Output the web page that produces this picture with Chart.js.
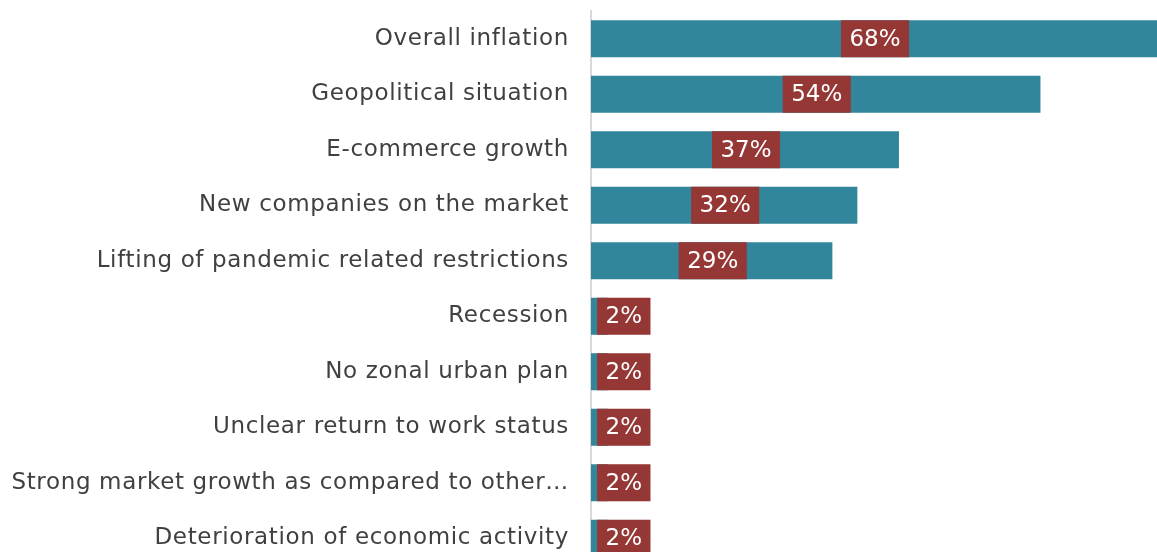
<!DOCTYPE html>
<html>
<head>
<meta charset="utf-8">
<script src="https://cdn.jsdelivr.net/npm/chart.js@4"></script>
<style>
  html, body { margin: 0; padding: 0; background: #fff; overflow: hidden; }
</style>
</head>
<body>
<canvas id="myCanvas" width="1157" height="566"></canvas>
<script>
// Data
const categories = [
  'Overall inflation',
  'Geopolitical situation',
  'E-commerce growth',
  'New companies on the market',
  'Lifting of pandemic related restrictions',
  'Recession',
  'No zonal urban plan',
  'Unclear return to work status',
  'Strong market growth as compared to other\u2026',
  'Deterioration of economic activity'
];
const shares = [68, 54, 37, 32, 29, 2, 2, 2, 2, 2];

const barColor = '#32869c';
const tagColor = '#953735';
const labelFont = '"DejaVu Sans", sans-serif';

// a bit of letter spacing so the labels come out as wide as the original
const spacing = {
  id: 'spacing',
  beforeDraw(chart) { chart.ctx.letterSpacing = '0.65px'; }
};

// value tags drawn in red boxes on the bars
const valueTags = {
  id: 'valueTags',
  afterDatasetsDraw(chart) {
    const c = chart.ctx;
    const meta = chart.getDatasetMeta(0);
    c.save();
    c.letterSpacing = '0px';
    c.font = '23px ' + labelFont;
    c.textBaseline = 'middle';
    c.textAlign = 'center';
    meta.data.forEach((bar, i) => {
      const txt = shares[i] + '%';
      const tw = c.measureText(txt).width;
      const w = tw + 17;
      const h = bar.height;
      const barW = bar.x - bar.base;
      let left;
      if (barW > w + 10) {
        left = (bar.x + bar.base) / 2 - w / 2 + 1;
      } else {
        left = bar.base + 6;
      }
      c.fillStyle = tagColor;
      c.fillRect(left, bar.y - h / 2, w, h);
      c.fillStyle = '#ffffff';
      c.fillText(txt, left + w / 2, bar.y + 1);
    });
    c.restore();
  }
};

const ctx = document.getElementById('myCanvas').getContext('2d');
const chart = new Chart(ctx, {
  type: 'bar',
  data: {
    labels: categories,
    datasets: [{
      data: shares,
      backgroundColor: barColor,
      borderWidth: 0,
      categoryPercentage: 1,
      barPercentage: 0.667
    }]
  },
  options: {
    responsive: false,
    indexAxis: 'y',
    animation: false,
    layout: { padding: { top: 11, right: 0, bottom: 0, left: 0 } },
    plugins: {
      legend: { display: false },
      tooltip: { enabled: false }
    },
    scales: {
      x: {
        display: false,
        min: 0,
        max: 68
      },
      y: {
        afterFit(scale) {
          scale.width = 591;
          scale.paddingTop = 0;
          scale.paddingBottom = 0;
        },
        grid: { display: false, drawTicks: false },
        border: { display: true, color: '#d9d9d9', width: 2 },
        ticks: {
          padding: 22,
          color: '#404040',
          font: { family: labelFont, size: 23 }
        }
      }
    }
  },
  plugins: [spacing, valueTags]
});
</script>
</body>
</html>
